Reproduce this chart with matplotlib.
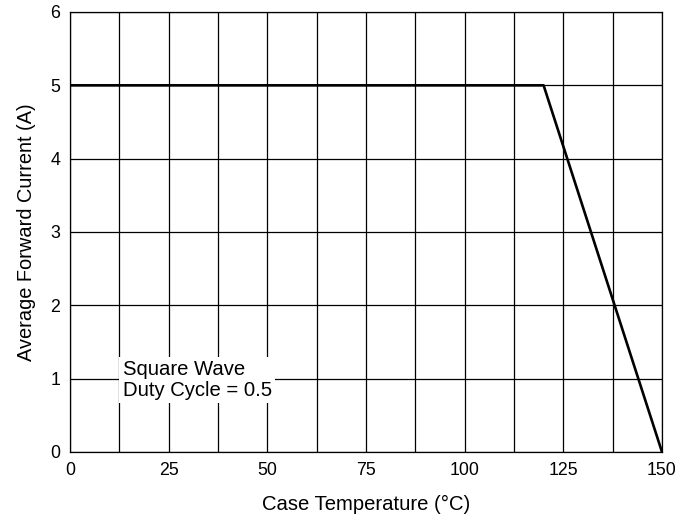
import matplotlib
matplotlib.use("Agg")
import matplotlib.pyplot as plt
import numpy as np

plt.rcParams['font.family'] = ['Liberation Sans', 'DejaVu Sans']

temp_c = [0, 120, 150]
current_a = [5, 5, 0]
x_ticks = [0, 25, 50, 75, 100, 125, 150]
y_ticks = [0, 1, 2, 3, 4, 5, 6]

fig = plt.figure(figsize=(6.8, 5.22), dpi=100)
ax = fig.add_axes([70/680, 1 - 452/522, 592/680, 440/522])

ax.set_xlim(0, 150)
ax.set_ylim(0, 6)
ax.set_xticks(x_ticks)
ax.set_yticks(y_ticks)
ax.set_xticks(np.arange(0, 151, 12.5), minor=True)
ax.tick_params(which='both', length=0, labelsize=12.8)
ax.tick_params(axis='x', pad=7)
ax.tick_params(axis='y', pad=7)
ax.grid(True, which='both', color='black', linewidth=0.9)
ax.set_axisbelow(True)
for s in ax.spines.values():
    s.set_linewidth(0.9)

ax.plot(temp_c, current_a, color='black', linewidth=1.9, zorder=3)

ax.text(13.4, 0.98, "Square Wave\nDuty Cycle = 0.5", fontsize=14.6, va='center', ha='left',
        linespacing=1.12,
        bbox=dict(facecolor='white', edgecolor='none', pad=2.5), zorder=4)

ax.set_xlabel("Case Temperature (°C)", fontsize=14.6, labelpad=12)
ax.set_ylabel("Average Forward Current (A)", fontsize=14.4, labelpad=10)

fig.savefig("out.png", dpi=100)
